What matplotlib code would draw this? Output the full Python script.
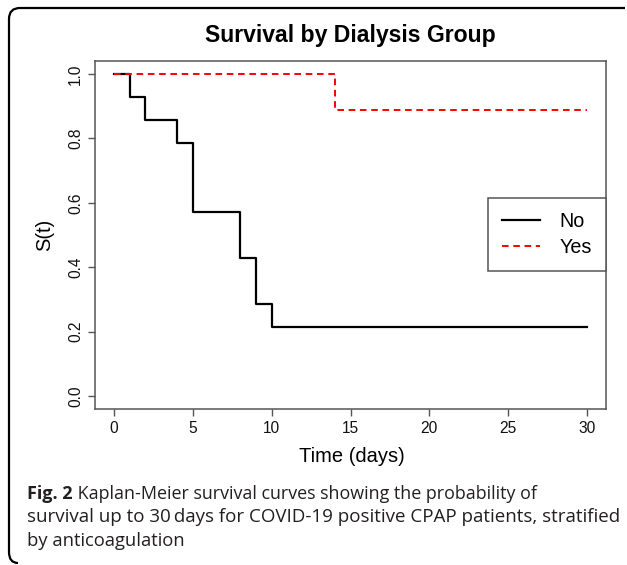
import matplotlib
matplotlib.use("Agg")
import matplotlib.pyplot as plt
from matplotlib.path import Path
from matplotlib.patches import PathPatch
from matplotlib.lines import Line2D

# ---- data (Kaplan-Meier step curves) ----
time_no = [0, 1, 2, 4, 5, 8, 9, 10, 30]
surv_no = [1.0, 0.929, 0.857, 0.786, 0.571, 0.429, 0.286, 0.214, 0.214]
time_yes = [0, 14, 30]
surv_yes = [1.0, 0.889, 0.889]
group_labels = ["No", "Yes"]
x_ticks = [0, 5, 10, 15, 20, 25, 30]
y_ticks = [0.0, 0.2, 0.4, 0.6, 0.8, 1.0]
title = "Survival by Dialysis Group"
x_label = "Time (days)"
y_label = "S(t)"
caption_bold = "Fig. 2"
caption_line1 = " Kaplan-Meier survival curves showing the probability of"
caption_line2 = "survival up to 30\u2009days for COVID-19 positive CPAP patients, stratified"
caption_line3 = "by anticoagulation"

W, H = 627, 565
fig = plt.figure(figsize=(W / 100, H / 100), dpi=100)
fig.patch.set_facecolor("white")

plot_font = "Liberation Sans"
cap_font = ["Open Sans", "DejaVu Sans"]

def fx(px):
    return px / W

def fy(py):
    return 1 - py / H

ax = fig.add_axes([fx(95), fy(409), fx(606) - fx(95), fy(61) - fy(409)])
ax.step(time_no, surv_no, where="post", color="black", lw=1.6)
ax.step(time_yes, surv_yes, where="post", color="#ff0000", lw=1.4,
        linestyle=(0, (3.4, 2.4)))

ax.set_xlim(-1.2, 31.2)
ax.set_ylim(-0.04, 1.04)
ax.set_xticks(x_ticks)
ax.set_yticks(y_ticks)
ax.set_xticklabels([str(v) for v in x_ticks], fontfamily=plot_font, fontsize=11.2)
ax.set_yticklabels([f"{v:.1f}" for v in y_ticks], fontfamily=plot_font, fontsize=11.2,
                   rotation=90, va="center")
spine_c = "#555555"
for s in ax.spines.values():
    s.set_color(spine_c)
    s.set_linewidth(1.1)
ax.tick_params(axis="both", color=spine_c, length=5.2, width=1.0, labelcolor="#111111")
ax.tick_params(axis="x", pad=3.5)
ax.tick_params(axis="y", pad=3.5)

ax.set_xlabel(x_label, fontfamily=plot_font, fontsize=14.5, va="baseline")
ax.xaxis.set_label_coords((351.5 - 95) / 511, -(461.5 - 409) / 348)
ax.set_ylabel(y_label, fontfamily=plot_font, fontsize=14.5, va="center")
ax.yaxis.set_label_coords((45 - 95) / 511, 0.5)
ax.set_title(title, fontfamily=plot_font, fontsize=16.6, fontweight="bold",
             va="baseline", y=(409 - 42) / 348, pad=0)

handles = [Line2D([], [], color="black", lw=1.6),
           Line2D([], [], color="#ff0000", lw=1.4, linestyle=(0, (3.4, 2.4)))]
leg = ax.legend(handles, group_labels, loc="upper right",
                bbox_to_anchor=(fx(606), fy(198)), bbox_transform=fig.transFigure,
                borderaxespad=0, fancybox=False, framealpha=1,
                prop={"family": plot_font, "size": 14.2},
                handlelength=1.95, handletextpad=1.0, borderpad=0.7,
                labelspacing=0.38)
leg.get_frame().set_edgecolor(spine_c)
leg.get_frame().set_linewidth(1.1)

# ---- outer frame (partial rounded border) ----
verts = [(625, 8), (20, 8), (9, 8), (9, 19), (9, 552), (9, 563), (18, 563)]
codes = [Path.MOVETO, Path.LINETO, Path.CURVE3, Path.CURVE3, Path.LINETO,
         Path.CURVE3, Path.CURVE3]
verts_f = [(fx(x), fy(y)) for x, y in verts]
frame = PathPatch(Path(verts_f, codes), transform=fig.transFigure, fill=False,
                  edgecolor="black", lw=1.6, capstyle="butt")
fig.add_artist(frame)

# ---- caption ----
cap_color = "#231f20"
t_bold = fig.text(fx(27), fy(499), caption_bold, fontfamily=cap_font, fontsize=13.0,
                  fontweight="bold", color=cap_color, va="baseline", ha="left")
fig.canvas.draw()
bb = t_bold.get_window_extent(fig.canvas.get_renderer())
fig.text(bb.x1 / W, fy(499), caption_line1, fontfamily=cap_font, fontsize=12.9,
         color=cap_color, va="baseline", ha="left")
fig.text(fx(27), fy(522.5), caption_line2, fontfamily=cap_font, fontsize=13.5,
         color=cap_color, va="baseline", ha="left")
fig.text(fx(27), fy(546), caption_line3, fontfamily=cap_font, fontsize=13.2,
         color=cap_color, va="baseline", ha="left")

fig.savefig("out.png", dpi=100)
